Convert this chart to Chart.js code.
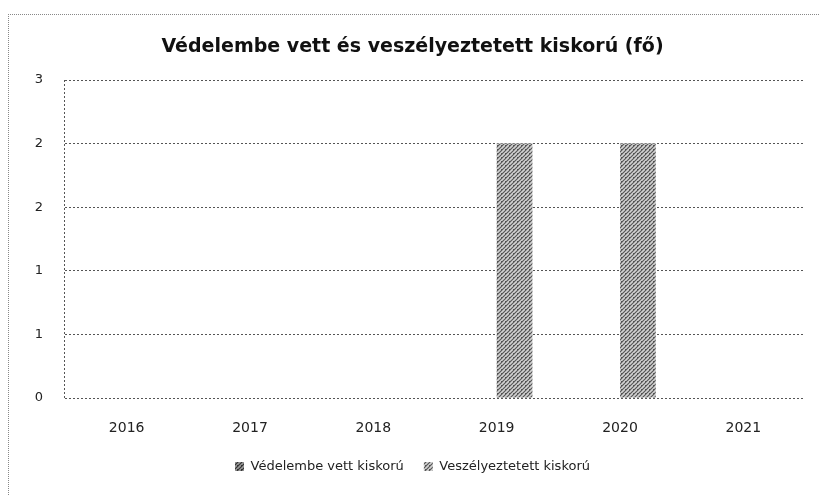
<!DOCTYPE html>
<html>
<head>
<meta charset="utf-8">
<script src="https://cdn.jsdelivr.net/npm/chart.js@4/dist/chart.umd.min.js"></script>
<style>
	body { margin: 0; background: #fff; }
	#frame {
		position: absolute; left: 8px; top: 14px; width: 830px; height: 500px;
		border-top: 1px dotted #888; border-left: 1px dotted #888;
	}
	#wrap { position: absolute; left: 0; top: 0; width: 820px; height: 495px; }
</style>
</head>
<body>
<div id="frame"></div>
<div id="wrap"><canvas id="chart"></canvas></div>
<script>
const categories = ['2016', '2017', '2018', '2019', '2020', '2021'];
const seriesNames = ['Védelembe vett kiskorú', 'Veszélyeztetett kiskorú'];
const vedelembeVett = [0, 0, 0, 0, 0, 0];
const veszelyeztetett = [0, 0, 0, 2, 2, 0];
const yTickLabels = ['0', '1', '1', '2', '2', '3'];

// hatched fill like the old excel print
let makePattern = (bg, line, step) => {
	let c = document.createElement('canvas');
	c.width = step; c.height = step;
	let ctx = c.getContext('2d');
	ctx.fillStyle = bg;
	ctx.fillRect(0, 0, step, step);
	ctx.strokeStyle = line;
	ctx.lineWidth = 1.2;
	ctx.beginPath();
	ctx.moveTo(0, step); ctx.lineTo(step, 0);
	ctx.moveTo(-step / 2, step / 2); ctx.lineTo(step / 2, -step / 2);
	ctx.moveTo(step / 2, step * 1.5); ctx.lineTo(step * 1.5, step / 2);
	ctx.stroke();
	ctx.fillStyle = line;
	ctx.fillRect(1, 1, 1, 1);
	return ctx.createPattern(c, 'repeat');
};

let fontFamily = '"DejaVu Sans", Verdana, sans-serif';
let gridColor = '#555';

new Chart(document.getElementById('chart'), {
	type: 'bar',
	data: {
		labels: categories,
		datasets: [
			{
				label: seriesNames[0],
				data: vedelembeVett,
				backgroundColor: makePattern('#9a9a9a', '#333', 4),
				borderWidth: 0,
			},
			{
				label: seriesNames[1],
				data: veszelyeztetett,
				backgroundColor: makePattern('#d2d2d2', '#555', 4),
				borderWidth: 0,
			},
		],
	},
	options: {
		responsive: true,
		maintainAspectRatio: false,
		animation: false,
		categoryPercentage: 0.58,
		barPercentage: 1,
		layout: {
			padding: { left: 20, right: 15, top: 0, bottom: 12 },
		},
		plugins: {
			title: {
				display: true,
				text: 'Védelembe vett és veszélyeztetett kiskorú (fő)',
				color: '#111',
				font: { family: fontFamily, size: 19, weight: 'bold' },
				padding: { top: 35.6, bottom: 21.6 },
			},
			legend: {
				position: 'bottom',
				labels: {
					color: '#222',
					font: { family: fontFamily, size: 13 },
					boxWidth: 9,
					boxHeight: 9,
					padding: 20,
				},
			},
			tooltip: { enabled: false },
		},
		scales: {
			x: {
				// only the first offset grid line is kept, as the dotted y-axis line
				grid: {
					display: true,
					drawTicks: false,
					color: (ctx) => ctx.index === 0 ? gridColor : 'rgba(0,0,0,0)',
				},
				border: { display: false, dash: [2, 2] },
				ticks: {
					color: '#222',
					font: { family: fontFamily, size: 14 },
					padding: 22,
					maxRotation: 0,
				},
				afterFit (scale) { scale.height = 42; },
			},
			y: {
				min: 0,
				max: 2.5,
				grid: {
					color: gridColor,
					lineWidth: 1,
					drawTicks: false,
				},
				border: { display: false, dash: [2, 2] },
				ticks: {
					stepSize: 0.5,
					color: '#222',
					font: { family: fontFamily, size: 13 },
					padding: 22,
					callback: (value, index) => yTickLabels[index],
				},
				afterFit (scale) { scale.width = 45; },
			},
		},
	},
});
</script>
</body>
</html>
